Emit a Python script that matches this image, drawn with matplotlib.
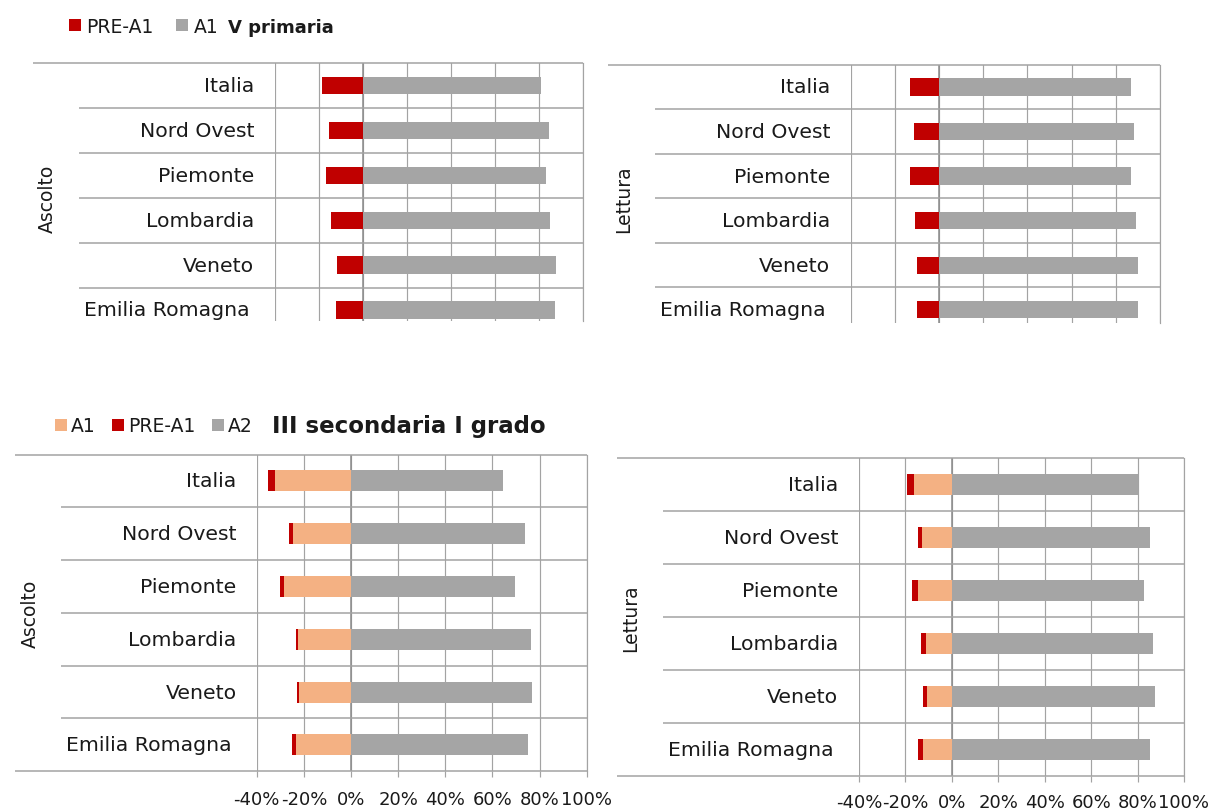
"""Livelli di inglese (INVALSI): V primaria e III secondaria di I grado."""

import matplotlib
matplotlib.use("Agg")
import matplotlib.pyplot as plt

regions = ["Italia", "Nord Ovest", "Piemonte", "Lombardia", "Veneto",
           "Emilia Romagna"]

# V primaria, percent of students
prim_ascolto_pre = [18.6, 15.3, 16.8, 14.7, 11.8, 12.3]
prim_ascolto_a1 = [81.0, 84.5, 83.2, 85.3, 88.0, 87.6]
prim_lettura_pre = [13.1, 11.4, 13.1, 10.9, 9.8, 9.8]
prim_lettura_a1 = [86.9, 88.4, 86.7, 89.1, 90.2, 90.0]

# III secondaria I grado, percent of students
sec_ascolto_pre = [3.0, 1.4, 1.7, 1.1, 0.9, 1.4]
sec_ascolto_a1 = [32.2, 24.8, 28.6, 22.4, 22.2, 23.5]
sec_ascolto_a2 = [64.7, 73.9, 69.7, 76.5, 76.9, 75.1]
sec_lettura_pre = [3.4, 2.0, 2.7, 1.9, 1.7, 2.3]
sec_lettura_a1 = [16.1, 12.8, 14.5, 11.3, 10.8, 12.5]
sec_lettura_a2 = [80.2, 85.2, 82.9, 86.6, 87.7, 85.3]

x_ticks = [-40, -20, 0, 20, 40, 60, 80, 100]
x_ticklabels = ["-40%", "-20%", "0%", "20%", "40%", "60%", "80%", "100%"]

W, H = 1215, 812
RED = "#C00000"
GREY = "#A5A5A5"
ORANGE = "#F4B183"
GRID = "#A3A3A3"
ZERO = "#8C8C8C"
LABEL_SIZE = 14.7
TICK_SIZE = 13
LEGEND_SIZE = 13.5

plt.rcParams["font.family"] = ["DejaVu Sans"]
plt.rcParams["text.color"] = "#1a1a1a"

fig = plt.figure(figsize=(W / 100, H / 100), dpi=100)


def px_axes(x0, y0, x1, y1):
    """Axes placed by pixel box (left, top, right, bottom)."""
    return fig.add_axes([x0 / W, 1 - y1 / H, (x1 - x0) / W, (y1 - y0) / H])


def draw_panel(box, y_low, outer_px, inner_px, label_px, skill_px, skill,
               series, show_ticks, bar_h, tick_pad=8.5):
    x0, y0, x1, y1 = box
    ax = px_axes(x0, y0, x1, y1)
    ax.set_xlim(-40, 100)
    ax.set_ylim(y_low, -0.5)
    for side in ax.spines.values():
        side.set_visible(False)

    ax.set_xticks(x_ticks)
    ax.set_yticks([])
    ax.grid(axis="x", color=GRID, linewidth=0.85)
    ax.set_axisbelow(True)
    ax.axvline(0, color=ZERO, linewidth=1.1, zorder=1)
    ax.axvline(100, color=GRID, linewidth=0.85, zorder=1, clip_on=False)

    ypos = list(range(len(regions)))
    for widths, lefts, color, name in series:
        ax.barh(ypos, widths, left=lefts, height=bar_h, color=color,
                label=name, zorder=2)

    def frac(px):
        return (px - x0) / (x1 - x0)

    trans = ax.get_yaxis_transform()
    # top border runs across the whole category area, row rules start
    # at the inner label column
    ax.hlines(-0.5, frac(outer_px), 1, transform=trans, color=GRID,
              linewidth=1.1, clip_on=False)
    for k in range(1, len(regions)):
        ax.hlines(k - 0.5, frac(inner_px), 1, transform=trans, color=GRID,
                  linewidth=1.1, clip_on=False)

    if show_ticks:
        ax.hlines(len(regions) - 0.5, frac(outer_px), 1, transform=trans,
                  color=GRID, linewidth=1.1, clip_on=False)
        ax.set_xticklabels(x_ticklabels, fontsize=TICK_SIZE)
        ax.tick_params(axis="x", length=4.5, width=0.85, color=GRID,
                       pad=tick_pad, labelcolor="#1a1a1a")
    else:
        ax.tick_params(axis="x", bottom=False, labelbottom=False)

    for i, name in enumerate(regions):
        if len(name) > 12:
            ax.text(frac((inner_px + label_px) / 2), i, name,
                    transform=trans, ha="center", va="center",
                    fontsize=LABEL_SIZE)
        else:
            ax.text(frac(label_px), i, name, transform=trans,
                    ha="right", va="center", fontsize=LABEL_SIZE)

    ax.text(frac(skill_px), (len(regions) - 1) / 2, skill, transform=trans,
            rotation=90, ha="center", va="center", fontsize=13.5)
    return ax


def neg(values):
    return [-v for v in values]


# V primaria
ax_tl = draw_panel(
    (275, 64, 582.7, 322), 5.246, 33, 79, 254, 47.5, "Ascolto",
    [(neg(prim_ascolto_pre), 0, RED, "PRE-A1"),
     (prim_ascolto_a1, 0, GREY, "A1")],
    show_ticks=False, bar_h=0.385)
draw_panel(
    (850.6, 65.7, 1160, 324), 5.30, 608, 655, 830, 623.5, "Lettura",
    [(neg(prim_lettura_pre), 0, RED, "PRE-A1"),
     (prim_lettura_a1, 0, GREY, "A1")],
    show_ticks=False, bar_h=0.385)

# III secondaria I grado
ax_bl = draw_panel(
    (256.7, 455.5, 586.7, 772.3), 5.5, 14.5, 60.5, 236.5, 30, "Ascolto",
    [(neg(sec_ascolto_a1), 0, ORANGE, "A1"),
     (neg(sec_ascolto_pre), neg(sec_ascolto_a1), RED, "PRE-A1"),
     (sec_ascolto_a2, 0, GREY, "A2")],
    show_ticks=True, bar_h=0.40, tick_pad=9)
draw_panel(
    (859, 459.3, 1184, 777.3), 5.5, 616.5, 662.7, 838, 631, "Lettura",
    [(neg(sec_lettura_a1), 0, ORANGE, "A1"),
     (neg(sec_lettura_pre), neg(sec_lettura_a1), RED, "PRE-A1"),
     (sec_lettura_a2, 0, GREY, "A2")],
    show_ticks=True, bar_h=0.40, tick_pad=7.5)

legend_kw = dict(loc="center left", frameon=False, fontsize=LEGEND_SIZE,
                 handlelength=0.62, handleheight=0.62, borderpad=0,
                 borderaxespad=0)

h, l = ax_tl.get_legend_handles_labels()
fig.legend(h, l, bbox_to_anchor=(69 / W, 1 - 27.5 / H), ncol=2,
           handletextpad=0.3, columnspacing=1.2, **legend_kw)
fig.text(228 / W, 1 - 28 / H, "V primaria", fontsize=13, fontweight="bold",
         ha="left", va="center")

h, l = ax_bl.get_legend_handles_labels()
fig.legend(h, l, bbox_to_anchor=(55 / W, 1 - 427 / H), ncol=3,
           handletextpad=0.22, columnspacing=0.9, **legend_kw)
fig.text(272 / W, 1 - 427 / H, "III secondaria I grado", fontsize=16.5,
         fontweight="bold", ha="left", va="center")

fig.savefig("out.png", dpi=100)
